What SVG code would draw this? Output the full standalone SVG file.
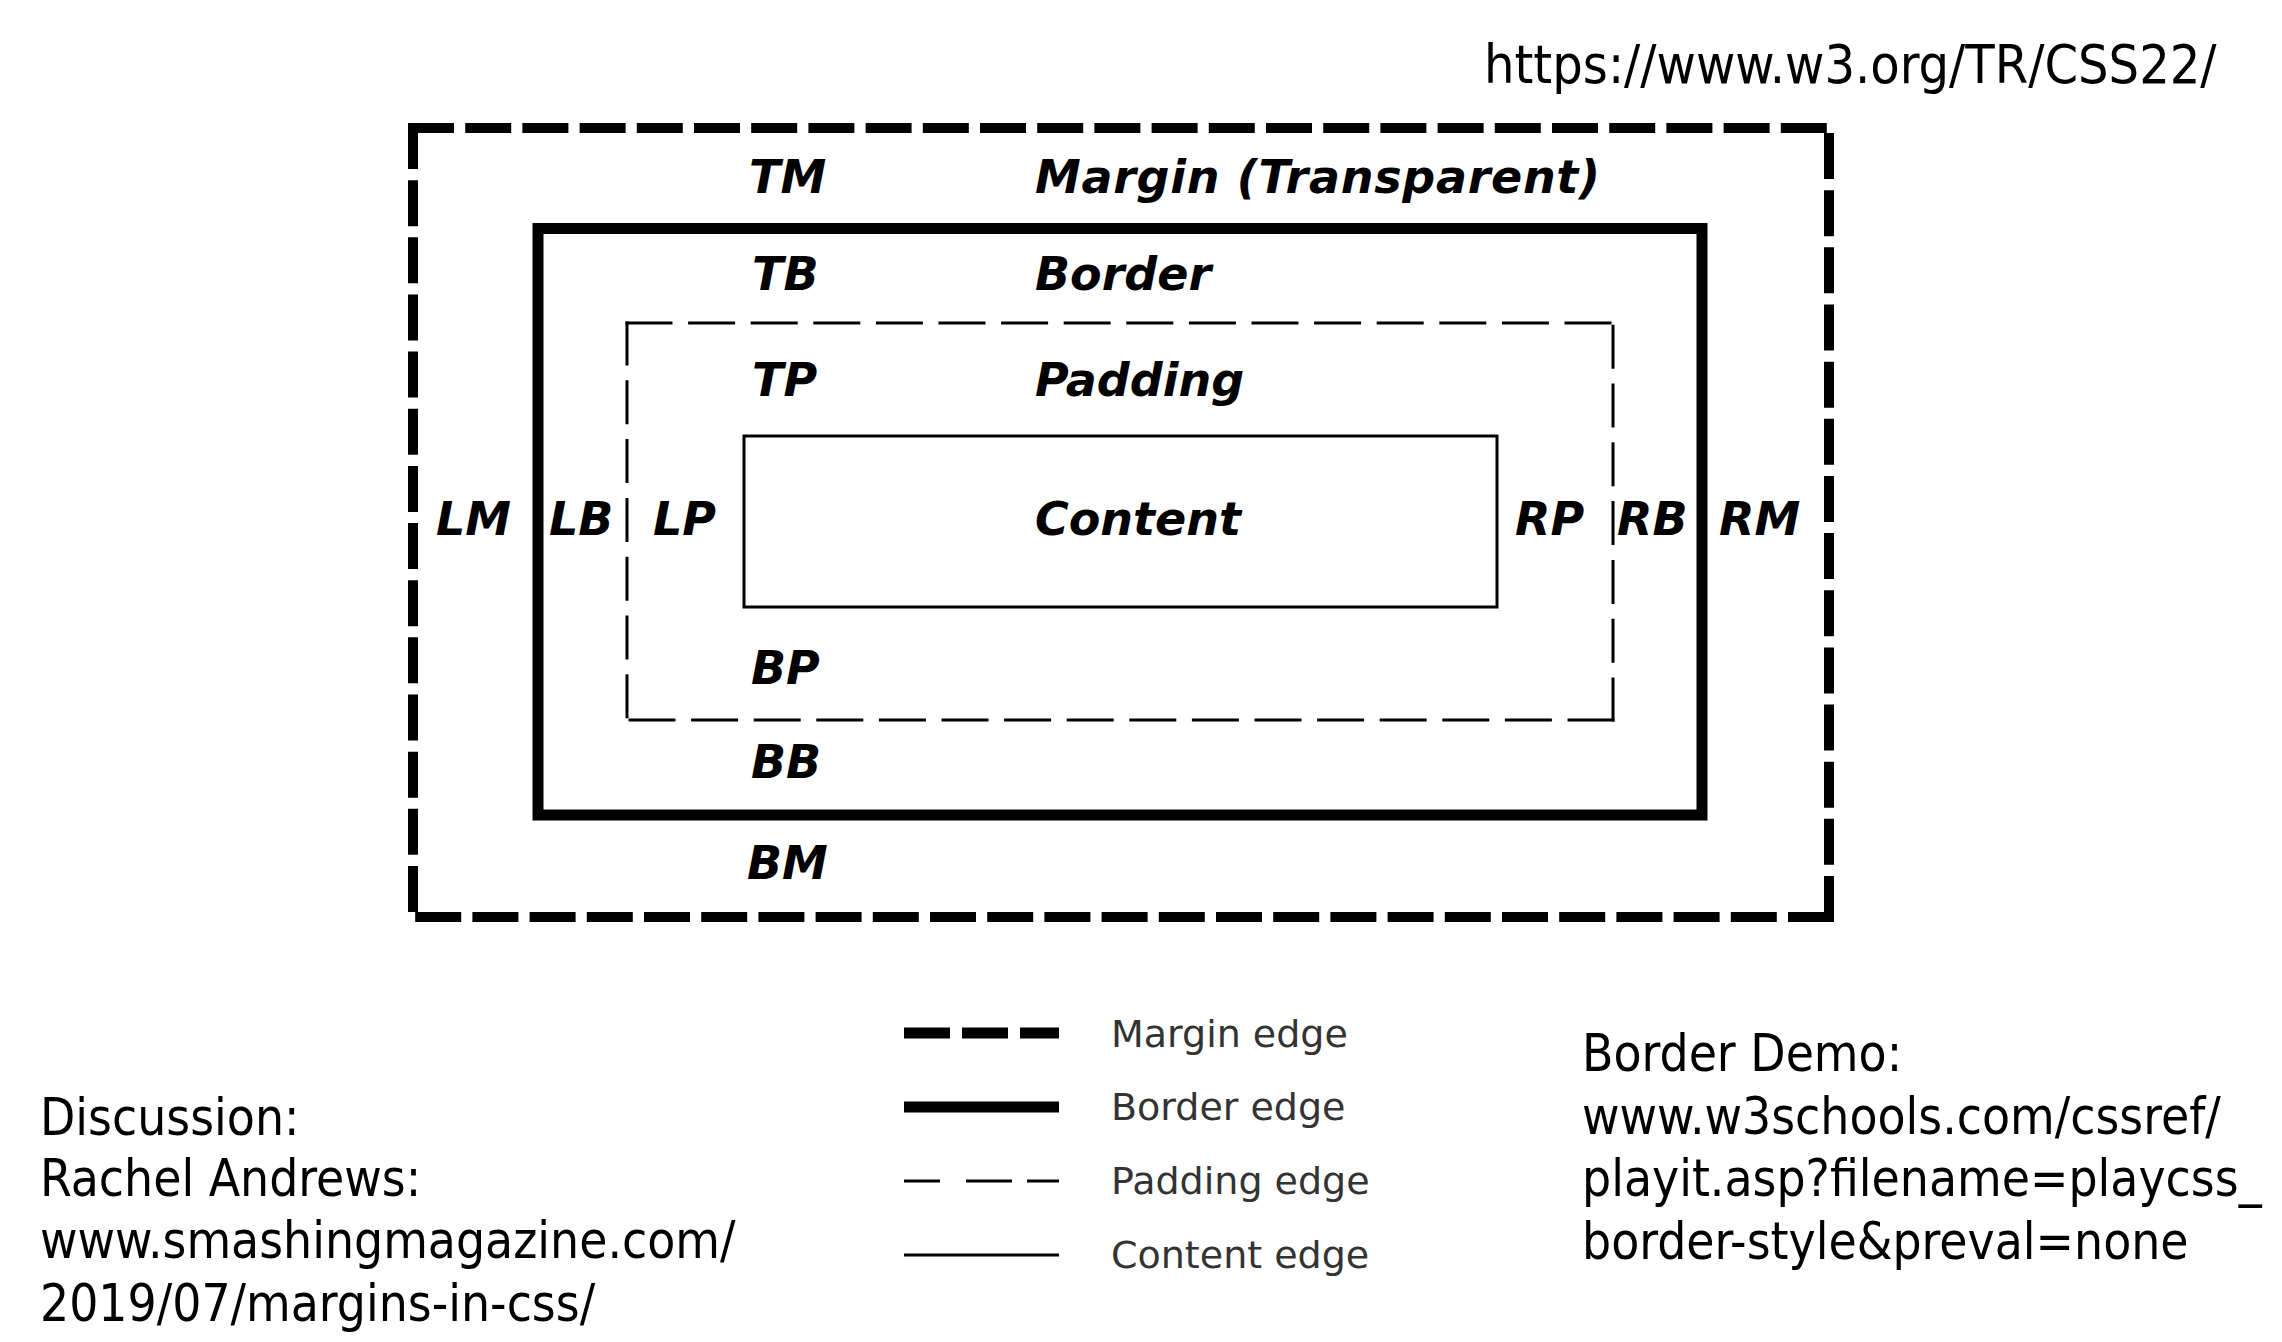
<svg xmlns="http://www.w3.org/2000/svg" width="2282" height="1342" viewBox="0 0 2282 1342">
<style>
.lbl{font-family:"DejaVu Sans",Verdana,sans-serif;font-weight:bold;font-style:italic;font-size:46px;fill:#000}
.leg{font-family:"DejaVu Sans",Verdana,sans-serif;font-size:38px;fill:#333}
.link{font-family:"DejaVu Sans Condensed","DejaVu Sans",sans-serif;font-stretch:condensed;font-size:51px;fill:#000}
.mh{fill:none;stroke:#000;stroke-width:10;stroke-dasharray:46 11.2}
.mv{fill:none;stroke:#000;stroke-width:10;stroke-dasharray:46 11.15}
.ph{fill:none;stroke:#000;stroke-width:3;stroke-dasharray:47 15.6}
.pv{fill:none;stroke:#000;stroke-width:3;stroke-dasharray:44 14.8}
.solid{fill:none;stroke:#000}
</style>
<rect width="2282" height="1342" fill="#fff"/>
<g id="margin-box">
<path class="mh" d="M408 128H1834"/>
<path class="mh" d="M1834 917H408"/>
<path class="mv" d="M413 123V922"/>
<path class="mv" d="M1829 922V123"/>
<text class="lbl" x="749" y="193">TM</text>
<text class="lbl" x="1035" y="193" letter-spacing="0.7">Margin (Transparent)</text>
<text class="lbl" x="436" y="535">LM</text>
<text class="lbl" x="1719" y="535">RM</text>
<text class="lbl" x="747" y="879">BM</text>
</g>
<g id="border-box">
<rect class="solid" x="538" y="228.5" width="1164" height="586.5" stroke-width="11"/>
<text class="lbl" x="752" y="290">TB</text>
<text class="lbl" x="1035" y="290">Border</text>
<text class="lbl" x="549" y="535">LB</text>
<text class="lbl" x="1617" y="535">RB</text>
<text class="lbl" x="751" y="778">BB</text>
</g>
<g id="padding-box">
<path class="ph" d="M625.5 323H1614.5"/>
<path class="ph" d="M1614.5 720H625.5"/>
<path class="pv" d="M627 321.5V721.5"/>
<path class="pv" d="M1613 721.5V321.5"/>
<text class="lbl" x="752" y="396">TP</text>
<text class="lbl" x="1035" y="396">Padding</text>
<text class="lbl" x="653" y="535">LP</text>
<text class="lbl" x="1515" y="535">RP</text>
<text class="lbl" x="751" y="684">BP</text>
</g>
<g id="content-box">
<rect class="solid" x="744" y="436" width="753" height="171" stroke-width="3"/>
<text class="lbl" x="1035" y="535">Content</text>
</g>
<g id="connectors"></g>
<g id="legend">
<path class="solid" d="M904 1033H1059" stroke-width="11" stroke-dasharray="46 12 46 12 39"/>
<path class="solid" d="M904 1107H1059" stroke-width="11"/>
<path class="solid" d="M904 1181H1059" stroke-width="3" stroke-dasharray="36 26 46 15 32"/>
<path class="solid" d="M904 1255H1059" stroke-width="3"/>
<text class="leg" x="1111" y="1047">Margin edge</text>
<text class="leg" x="1111" y="1120">Border edge</text>
<text class="leg" x="1111" y="1194">Padding edge</text>
<text class="leg" x="1111" y="1268">Content edge</text>
</g>
<g id="source-link">
<text class="link" x="1484" y="83" style="font-size:53.5px">https://www.w3.org/TR/CSS22/</text>
</g>
<g id="discussion">
<text class="link" x="40" y="1135">Discussion:</text>
<text class="link" x="40" y="1196">Rachel Andrews:</text>
<text class="link" x="40" y="1258">www.smashingmagazine.com/</text>
<text class="link" x="40" y="1321">2019/07/margins-in-css/</text>
</g>
<g id="border-demo">
<text class="link" x="1582" y="1071">Border Demo:</text>
<text class="link" x="1582" y="1134">www.w3schools.com/cssref/</text>
<text class="link" x="1582" y="1196">playit.asp?filename=playcss_</text>
<text class="link" x="1582" y="1259">border-style&amp;preval=none</text>
</g>
</svg>
